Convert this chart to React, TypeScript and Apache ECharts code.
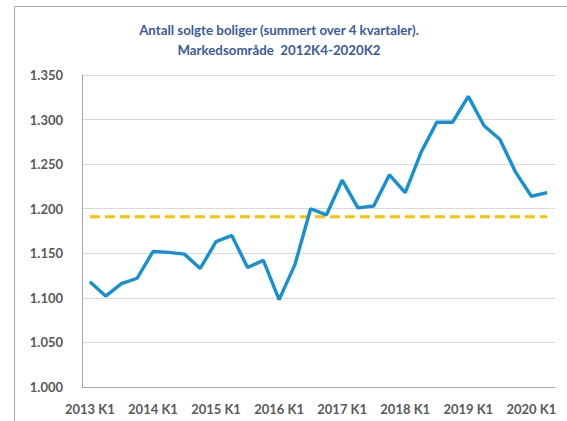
import React, { useEffect, useRef } from "react";
import * as echarts from "echarts";

const years = [2013, 2014, 2015, 2016, 2017, 2018, 2019, 2020];
const categories: string[] = [];
years.forEach((y) => {
  const n = y === 2020 ? 2 : 4;
  for (let q = 1; q <= n; q++) categories.push(`${y} K${q}`);
});

const salesValues = [
  1118, 1102, 1116, 1122, 1152, 1151, 1149, 1133, 1163, 1170, 1134, 1142,
  1098, 1137, 1200, 1193, 1232, 1201, 1203, 1238, 1218, 1263, 1297, 1297,
  1326, 1293, 1278, 1241, 1214, 1218,
];
const averageValue = 1191;
const averageValues = categories.map(() => averageValue);

const titleLines = [
  "Antall solgte boliger (summert over 4 kvartaler).",
  "Markedsområde  2012K4-2020K2",
];

const fmt = (v: number) =>
  `${Math.floor(v / 1000)}.${String(Math.round(v % 1000)).padStart(3, "0")}`;

export default function App() {
  const ref = useRef<HTMLDivElement>(null);
  useEffect(() => {
    if (!ref.current) return;
    const chart = echarts.init(ref.current, null, { renderer: "svg" });
    const font = "Lato, 'Open Sans', sans-serif";
    chart.setOption({
      animation: false,
      backgroundColor: "#ffffff",
      graphic: [
        {
          type: "rect",
          shape: { x: 14.5, y: 6.5, width: 700, height: 600 },
          style: { fill: "none", stroke: "#A6A6A6", lineWidth: 1 },
          silent: true,
        },
        {
          type: "text",
          x: 279,
          y: 30,
          style: {
            text: titleLines[0],
            fontFamily: font,
            fontWeight: "bold",
            fontSize: 13.3,
            fill: "#3A5A9B",
            align: "center",
            verticalAlign: "middle",
          },
        },
        {
          type: "text",
          x: 279,
          y: 50,
          style: {
            text: titleLines[1],
            fontFamily: font,
            fontWeight: "bold",
            fontSize: 13.3,
            fill: "#3A5A9B",
            align: "center",
            verticalAlign: "middle",
          },
        },
      ],
      grid: { left: 82, right: 12, top: 75, bottom: 34, containLabel: false },
      xAxis: {
        type: "category",
        data: categories,
        boundaryGap: true,
        axisLine: { show: true, lineStyle: { color: "#A6A6A6", width: 1 } },
        axisTick: { show: false },
        axisLabel: {
          interval: 3,
          margin: 15,
          color: "#595959",
          fontFamily: font,
          fontWeight: "bold",
          fontSize: 13,
        },
        splitLine: { show: false },
      },
      yAxis: {
        type: "value",
        min: 1000,
        max: 1350,
        interval: 50,
        axisLine: { show: true, lineStyle: { color: "#A6A6A6", width: 1 } },
        axisTick: { show: false },
        axisLabel: {
          formatter: fmt,
          margin: 19,
          color: "#595959",
          fontFamily: font,
          fontWeight: "bold",
          fontSize: 13,
        },
        splitLine: { show: true, lineStyle: { color: "#D9D9D9", width: 1 } },
      },
      series: [
        {
          type: "line",
          data: averageValues,
          symbol: "none",
          lineStyle: { color: "#FFC000", width: 3, type: [10, 5] },
          z: 2,
        },
        {
          type: "line",
          data: salesValues,
          symbol: "none",
          lineStyle: { color: "#1590D3", width: 3.4 },
          z: 3,
        },
      ],
    });
    return () => chart.dispose();
  }, []);
  return (
    <div
      ref={ref}
      style={{ position: "fixed", left: 0, top: 0, width: 567, height: 421 }}
    />
  );
}
